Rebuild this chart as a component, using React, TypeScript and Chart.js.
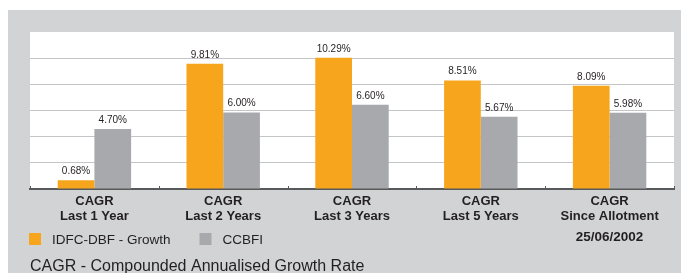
import React, { useEffect, useRef } from 'react';
import { Chart, registerables } from 'chart.js';

Chart.register(...registerables);

const categories = [
  ['CAGR', 'Last 1 Year'],
  ['CAGR', 'Last 2 Years'],
  ['CAGR', 'Last 3 Years'],
  ['CAGR', 'Last 5 Years'],
  ['CAGR', 'Since Allotment'],
];
const categoryNotes = ['', '', '', '', '25/06/2002'];
const seriesNames = ['IDFC-DBF - Growth', 'CCBFI'];
const fundValues = [0.68, 9.81, 10.29, 8.51, 8.09];
const benchmarkValues = [4.7, 6.0, 6.6, 5.67, 5.98];
const footnote = 'CAGR - Compounded Annualised Growth Rate';
const yMax = 12.3;
const yStep = 2.05;

const FONT = '"Liberation Sans", Arial, Helvetica, sans-serif';
const TEXT = '#231f20';
const ORANGE = '#f7a51c';
const GREY = '#a7a9ac';
const BG = '#d1d3d4';

const decorPlugin = {
  id: 'decor',
  beforeDraw(chart: any) {
    const { ctx, chartArea: a } = chart;
    ctx.save();
    ctx.fillStyle = '#ffffff';
    ctx.fillRect(a.left, a.top, a.right - a.left, a.bottom - a.top);
    ctx.restore();
  },
  afterDatasetsDraw(chart: any) {
    const { ctx } = chart;
    ctx.save();
    ctx.font = `10px ${FONT}`;
    ctx.fillStyle = TEXT;
    ctx.textAlign = 'center';
    ctx.textBaseline = 'alphabetic';
    chart.data.datasets.forEach((ds: any, d: number) => {
      const meta = chart.getDatasetMeta(d);
      meta.data.forEach((bar: any, i: number) => {
        ctx.fillText(`${Number(ds.data[i]).toFixed(2)}%`, bar.x, bar.y - 6);
      });
    });
    ctx.restore();
  },
  afterDraw(chart: any) {
    const { ctx, chartArea: a } = chart;
    const xs = chart.scales.x;
    const n = chart.data.labels.length;
    const step = (a.right - a.left) / n;
    ctx.save();
    // upward tick marks at category boundaries
    ctx.strokeStyle = '#58595b';
    ctx.lineWidth = 1;
    for (let i = 0; i <= n; i++) {
      const x = Math.round(a.left + i * step) + 0.5;
      ctx.beginPath();
      ctx.moveTo(x, a.bottom - 3);
      ctx.lineTo(x, a.bottom);
      ctx.stroke();
    }
    // extra notes under category labels
    ctx.fillStyle = TEXT;
    ctx.font = `bold 13.5px ${FONT}`;
    ctx.textAlign = 'center';
    ctx.textBaseline = 'alphabetic';
    categoryNotes.forEach((note, i) => {
      if (note) ctx.fillText(note, xs.getPixelForValue(i), a.bottom + 52);
    });
    // legend
    ctx.font = `13.5px ${FONT}`;
    ctx.textAlign = 'left';
    let lx = a.left - 1;
    const ly = a.bottom + 44;
    chart.data.datasets.forEach((ds: any) => {
      ctx.fillStyle = ds.backgroundColor;
      ctx.fillRect(lx, ly, 12, 12);
      ctx.fillStyle = TEXT;
      const tx = lx + 23;
      ctx.fillText(ds.label, tx, ly + 11);
      lx = tx + ctx.measureText(ds.label).width + 29;
    });
    // footnote
    ctx.font = `16px ${FONT}`;
    ctx.fillText(footnote, a.left, a.bottom + 82);
    ctx.restore();
  },
};

export default function App() {
  const ref = useRef<HTMLCanvasElement | null>(null);
  useEffect(() => {
    if (!ref.current) return;
    const chart = new Chart(ref.current, {
      type: 'bar',
      data: {
        labels: categories,
        datasets: [
          { label: seriesNames[0], data: fundValues, backgroundColor: ORANGE },
          { label: seriesNames[1], data: benchmarkValues, backgroundColor: GREY },
        ],
      },
      options: {
        animation: false,
        responsive: false,
        maintainAspectRatio: false,
        layout: { padding: { left: 22, right: 7, top: 22, bottom: 0 } },
        datasets: { bar: { categoryPercentage: 0.57, barPercentage: 1 } },
        plugins: {
          legend: { display: false },
          tooltip: { enabled: false },
          title: { display: false },
        },
        scales: {
          x: {
            grid: { display: false, drawTicks: false },
            border: { display: true, color: '#58595b', width: 2 },
            ticks: {
              color: TEXT,
              padding: 5,
              maxRotation: 0,
              autoSkip: false,
              font: { family: FONT, size: 13, weight: 'bold', lineHeight: 15 / 13 },
            },
            afterFit(scale: any) {
              scale.height = 84;
            },
          },
          y: {
            min: 0,
            max: yMax,
            ticks: { display: false, stepSize: yStep },
            border: { display: false },
            grid: {
              drawTicks: false,
              lineWidth: 1,
              color: (c: any) =>
                c.tick && (c.tick.value > yMax - 0.1 || c.tick.value < 0.1)
                  ? 'rgba(0,0,0,0)'
                  : '#c4c5c7',
            },
          },
        },
      },
      plugins: [decorPlugin],
    });
    return () => chart.destroy();
  }, []);

  return (
    <div
      style={{
        position: 'fixed',
        left: 0,
        top: 0,
        width: 681,
        height: 273,
        background: '#ffffff',
        overflow: 'hidden',
      }}
    >
      <div
        style={{
          position: 'absolute',
          left: 8,
          top: 10,
          width: 673,
          height: 263,
          background: BG,
        }}
      >
        <canvas ref={ref} width={673} height={263} style={{ display: 'block' }} />
      </div>
    </div>
  );
}
